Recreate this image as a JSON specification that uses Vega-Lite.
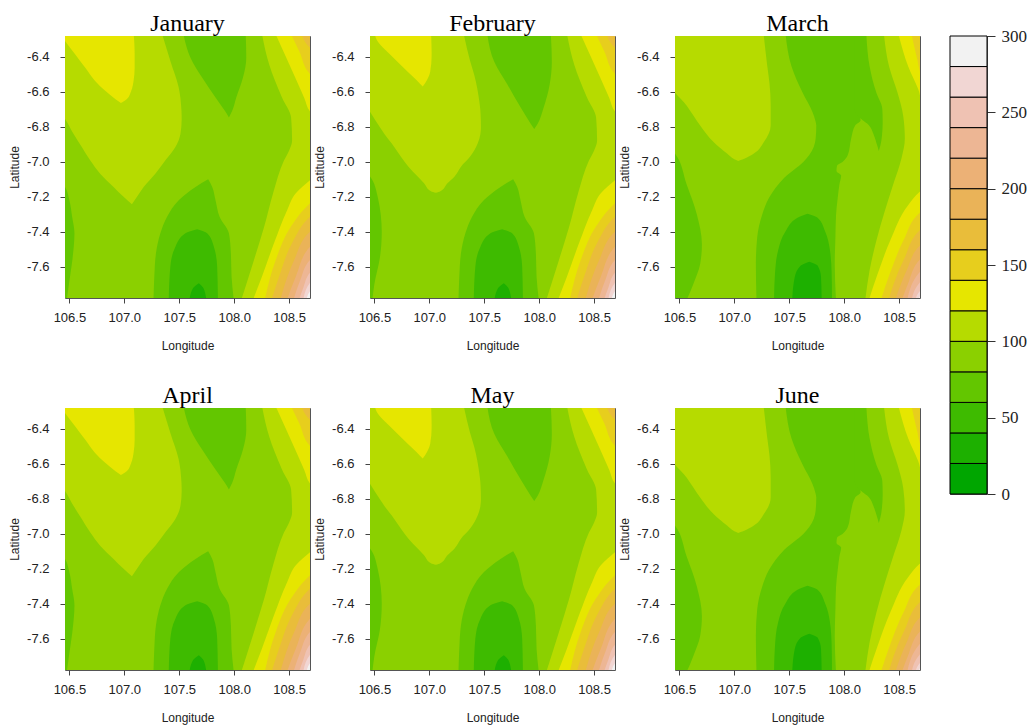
{
  "$schema": "https://vega.github.io/schema/vega-lite/v6.json",
  "padding": {"left": 8, "top": -5, "right": 5, "bottom": 2},
  "background": "white",
  "config": {
    "locale": {"number": {"decimal": ".", "thousands": ",", "grouping": [3], "currency": ["$", ""], "minus": "-"}},
    "view": {"stroke": "#555", "strokeWidth": 1},
    "axis": {"labelFont": "Liberation Sans", "labelFontSize": 13, "labelColor": "#222", "titleFont": "Liberation Sans", "titleFontSize": 12, "titleFontWeight": "normal", "titleColor": "#222", "tickColor": "#444", "tickSize": 5, "domain": false, "grid": false, "labelFlush": false},
    "axisX": {"titlePadding": 16, "labelPadding": 8},
    "axisY": {"titlePadding": 5, "labelPadding": 11}
  },
  "datasets": {
    "bands": [
      {"lo": 0, "hi": 20, "v": 10}, {"lo": 20, "hi": 40, "v": 30}, {"lo": 40, "hi": 60, "v": 50},
      {"lo": 60, "hi": 80, "v": 70}, {"lo": 80, "hi": 100, "v": 90}, {"lo": 100, "hi": 120, "v": 110},
      {"lo": 120, "hi": 140, "v": 130}, {"lo": 140, "hi": 160, "v": 150}, {"lo": 160, "hi": 180, "v": 170},
      {"lo": 180, "hi": 200, "v": 190}, {"lo": 200, "hi": 220, "v": 210}, {"lo": 220, "hi": 240, "v": 230},
      {"lo": 240, "hi": 260, "v": 250}, {"lo": 260, "hi": 280, "v": 270}, {"lo": 280, "hi": 300, "v": 290}
    ],
    "regions": [
      {"m": ["January","February","March","April","May","June"], "id": "base", "v": 90, "z": 0, "lat": -6.2, "a": 106.3, "b": 108.8},
      {"m": ["January","February","March","April","May","June"], "id": "base", "v": 90, "z": 0, "lat": -7.9, "a": 106.3, "b": 108.8},

      {"m": ["January","April"], "id": "a_ls", "v": 70, "z": 1, "lat": -7.13, "a": 106.4, "b": 106.4},
      {"m": ["January","April"], "id": "a_ls", "v": 70, "z": 1, "lat": -7.144, "a": 106.4, "b": 106.46},
      {"m": ["January","April"], "id": "a_ls", "v": 70, "z": 1, "lat": -7.22, "a": 106.4, "b": 106.5},
      {"m": ["January","April"], "id": "a_ls", "v": 70, "z": 1, "lat": -7.315, "a": 106.4, "b": 106.525},
      {"m": ["January","April"], "id": "a_ls", "v": 70, "z": 1, "lat": -7.41, "a": 106.4, "b": 106.546},
      {"m": ["January","April"], "id": "a_ls", "v": 70, "z": 1, "lat": -7.562, "a": 106.4, "b": 106.527},
      {"m": ["January","April"], "id": "a_ls", "v": 70, "z": 1, "lat": -7.695, "a": 106.4, "b": 106.497},
      {"m": ["January","April"], "id": "a_ls", "v": 70, "z": 1, "lat": -7.8, "a": 106.4, "b": 106.474},

      {"m": ["January","April"], "id": "a_lm", "v": 110, "z": 1, "lat": -6.26, "a": 106.4, "b": 107.34},
      {"m": ["January","April"], "id": "a_lm", "v": 110, "z": 1, "lat": -6.423, "a": 106.4, "b": 107.419},
      {"m": ["January","April"], "id": "a_lm", "v": 110, "z": 1, "lat": -6.575, "a": 106.4, "b": 107.495},
      {"m": ["January","April"], "id": "a_lm", "v": 110, "z": 1, "lat": -6.708, "a": 106.4, "b": 107.52},
      {"m": ["January","April"], "id": "a_lm", "v": 110, "z": 1, "lat": -6.755, "a": 106.46, "b": 107.522},
      {"m": ["January","April"], "id": "a_lm", "v": 110, "z": 1, "lat": -6.84, "a": 106.537, "b": 107.511},
      {"m": ["January","April"], "id": "a_lm", "v": 110, "z": 1, "lat": -6.916, "a": 106.613, "b": 107.465},
      {"m": ["January","April"], "id": "a_lm", "v": 110, "z": 1, "lat": -6.992, "a": 106.689, "b": 107.374},
      {"m": ["January","April"], "id": "a_lm", "v": 110, "z": 1, "lat": -7.068, "a": 106.78, "b": 107.282},
      {"m": ["January","April"], "id": "a_lm", "v": 110, "z": 1, "lat": -7.144, "a": 106.902, "b": 107.176},
      {"m": ["January","April"], "id": "a_lm", "v": 110, "z": 1, "lat": -7.201, "a": 106.993, "b": 107.115},
      {"m": ["January","April"], "id": "a_lm", "v": 110, "z": 1, "lat": -7.243, "a": 107.069, "b": 107.069},

      {"m": ["January","April"], "id": "a_ye", "v": 130, "z": 2, "lat": -6.26, "a": 106.4, "b": 107.084},
      {"m": ["January","April"], "id": "a_ye", "v": 130, "z": 2, "lat": -6.309, "a": 106.46, "b": 107.09},
      {"m": ["January","April"], "id": "a_ye", "v": 130, "z": 2, "lat": -6.385, "a": 106.552, "b": 107.094},
      {"m": ["January","April"], "id": "a_ye", "v": 130, "z": 2, "lat": -6.461, "a": 106.643, "b": 107.094},
      {"m": ["January","April"], "id": "a_ye", "v": 130, "z": 2, "lat": -6.537, "a": 106.734, "b": 107.084},
      {"m": ["January","April"], "id": "a_ye", "v": 130, "z": 2, "lat": -6.594, "a": 106.826, "b": 107.063},
      {"m": ["January","April"], "id": "a_ye", "v": 130, "z": 2, "lat": -6.641, "a": 106.917, "b": 107.024},
      {"m": ["January","April"], "id": "a_ye", "v": 130, "z": 2, "lat": -6.664, "a": 106.969, "b": 106.969},

      {"m": ["January","April"], "id": "a_gt", "v": 70, "z": 1, "lat": -6.26, "a": 107.535, "b": 108.104},
      {"m": ["January","April"], "id": "a_gt", "v": 70, "z": 1, "lat": -6.404, "a": 107.602, "b": 108.11},
      {"m": ["January","April"], "id": "a_gt", "v": 70, "z": 1, "lat": -6.518, "a": 107.708, "b": 108.08},
      {"m": ["January","April"], "id": "a_gt", "v": 70, "z": 1, "lat": -6.632, "a": 107.83, "b": 108.019},
      {"m": ["January","April"], "id": "a_gt", "v": 70, "z": 1, "lat": -6.708, "a": 107.915, "b": 107.982},
      {"m": ["January","April"], "id": "a_gt", "v": 70, "z": 1, "lat": -6.746, "a": 107.952, "b": 107.952},

      {"m": ["February","May"], "id": "b_ls", "v": 70, "z": 1, "lat": -7.07, "a": 106.4, "b": 106.4},
      {"m": ["February","May"], "id": "b_ls", "v": 70, "z": 1, "lat": -7.084, "a": 106.4, "b": 106.46},
      {"m": ["February","May"], "id": "b_ls", "v": 70, "z": 1, "lat": -7.2, "a": 106.4, "b": 106.53},
      {"m": ["February","May"], "id": "b_ls", "v": 70, "z": 1, "lat": -7.4, "a": 106.4, "b": 106.567},
      {"m": ["February","May"], "id": "b_ls", "v": 70, "z": 1, "lat": -7.55, "a": 106.4, "b": 106.55},
      {"m": ["February","May"], "id": "b_ls", "v": 70, "z": 1, "lat": -7.7, "a": 106.4, "b": 106.5},
      {"m": ["February","May"], "id": "b_ls", "v": 70, "z": 1, "lat": -7.8, "a": 106.4, "b": 106.48},

      {"m": ["February","May"], "id": "b_lm", "v": 110, "z": 1, "lat": -6.26, "a": 106.4, "b": 107.31},
      {"m": ["February","May"], "id": "b_lm", "v": 110, "z": 1, "lat": -6.42, "a": 106.4, "b": 107.37},
      {"m": ["February","May"], "id": "b_lm", "v": 110, "z": 1, "lat": -6.503, "a": 106.4, "b": 107.409},
      {"m": ["February","May"], "id": "b_lm", "v": 110, "z": 1, "lat": -6.653, "a": 106.4, "b": 107.455},
      {"m": ["February","May"], "id": "b_lm", "v": 110, "z": 1, "lat": -6.709, "a": 106.455, "b": 107.465},
      {"m": ["February","May"], "id": "b_lm", "v": 110, "z": 1, "lat": -6.803, "a": 106.55, "b": 107.47},
      {"m": ["February","May"], "id": "b_lm", "v": 110, "z": 1, "lat": -6.841, "a": 106.591, "b": 107.465},
      {"m": ["February","May"], "id": "b_lm", "v": 110, "z": 1, "lat": -6.897, "a": 106.66, "b": 107.439},
      {"m": ["February","May"], "id": "b_lm", "v": 110, "z": 1, "lat": -6.972, "a": 106.742, "b": 107.37},
      {"m": ["February","May"], "id": "b_lm", "v": 110, "z": 1, "lat": -7.028, "a": 106.81, "b": 107.288},
      {"m": ["February","May"], "id": "b_lm", "v": 110, "z": 1, "lat": -7.084, "a": 106.894, "b": 107.23},
      {"m": ["February","May"], "id": "b_lm", "v": 110, "z": 1, "lat": -7.122, "a": 106.95, "b": 107.167},
      {"m": ["February","May"], "id": "b_lm", "v": 110, "z": 1, "lat": -7.169, "a": 107.015, "b": 107.1},
      {"m": ["February","May"], "id": "b_lm", "v": 110, "z": 1, "lat": -7.178, "a": 107.06, "b": 107.06},

      {"m": ["February","May"], "id": "b_ye", "v": 130, "z": 2, "lat": -6.26, "a": 106.5, "b": 107.015},
      {"m": ["February","May"], "id": "b_ye", "v": 130, "z": 2, "lat": -6.3, "a": 106.52, "b": 107.018},
      {"m": ["February","May"], "id": "b_ye", "v": 130, "z": 2, "lat": -6.391, "a": 106.652, "b": 107.021},
      {"m": ["February","May"], "id": "b_ye", "v": 130, "z": 2, "lat": -6.484, "a": 106.803, "b": 107.008},
      {"m": ["February","May"], "id": "b_ye", "v": 130, "z": 2, "lat": -6.53, "a": 106.88, "b": 106.98},
      {"m": ["February","May"], "id": "b_ye", "v": 130, "z": 2, "lat": -6.569, "a": 106.94, "b": 106.94},

      {"m": ["February","May"], "id": "b_gt", "v": 70, "z": 1, "lat": -6.26, "a": 107.525, "b": 108.105},
      {"m": ["February","May"], "id": "b_gt", "v": 70, "z": 1, "lat": -6.428, "a": 107.591, "b": 108.115},
      {"m": ["February","May"], "id": "b_gt", "v": 70, "z": 1, "lat": -6.559, "a": 107.712, "b": 108.095},
      {"m": ["February","May"], "id": "b_gt", "v": 70, "z": 1, "lat": -6.691, "a": 107.833, "b": 108.04},
      {"m": ["February","May"], "id": "b_gt", "v": 70, "z": 1, "lat": -6.784, "a": 107.924, "b": 107.985},
      {"m": ["February","May"], "id": "b_gt", "v": 70, "z": 1, "lat": -6.813, "a": 107.955, "b": 107.955},

      {"m": ["January","February","April","May"], "id": "ab_gb", "v": 70, "z": 1, "lat": -7.1, "a": 107.763, "b": 107.763},
      {"m": ["January","February","April","May"], "id": "ab_gb", "v": 70, "z": 1, "lat": -7.144, "a": 107.648, "b": 107.8},
      {"m": ["January","February","April","May"], "id": "ab_gb", "v": 70, "z": 1, "lat": -7.22, "a": 107.495, "b": 107.83},
      {"m": ["January","February","April","May"], "id": "ab_gb", "v": 70, "z": 1, "lat": -7.315, "a": 107.389, "b": 107.867},
      {"m": ["January","February","April","May"], "id": "ab_gb", "v": 70, "z": 1, "lat": -7.41, "a": 107.328, "b": 107.952},
      {"m": ["January","February","April","May"], "id": "ab_gb", "v": 70, "z": 1, "lat": -7.524, "a": 107.288, "b": 107.97},
      {"m": ["January","February","April","May"], "id": "ab_gb", "v": 70, "z": 1, "lat": -7.657, "a": 107.273, "b": 107.976},
      {"m": ["January","February","April","May"], "id": "ab_gb", "v": 70, "z": 1, "lat": -7.8, "a": 107.265, "b": 107.998},

      {"m": ["January","February","April","May"], "id": "ab_dg", "v": 50, "z": 2, "lat": -7.387, "a": 107.663, "b": 107.663},
      {"m": ["January","February","April","May"], "id": "ab_dg", "v": 50, "z": 2, "lat": -7.41, "a": 107.556, "b": 107.754},
      {"m": ["January","February","April","May"], "id": "ab_dg", "v": 50, "z": 2, "lat": -7.486, "a": 107.465, "b": 107.815},
      {"m": ["January","February","April","May"], "id": "ab_dg", "v": 50, "z": 2, "lat": -7.6, "a": 107.419, "b": 107.845},
      {"m": ["January","February","April","May"], "id": "ab_dg", "v": 50, "z": 2, "lat": -7.8, "a": 107.404, "b": 107.852},

      {"m": ["January","February","April","May"], "id": "ab_dd", "v": 30, "z": 3, "lat": -7.695, "a": 107.678, "b": 107.678},
      {"m": ["January","February","April","May"], "id": "ab_dd", "v": 30, "z": 3, "lat": -7.723, "a": 107.626, "b": 107.72},
      {"m": ["January","February","April","May"], "id": "ab_dd", "v": 30, "z": 3, "lat": -7.8, "a": 107.59, "b": 107.748},

      {"m": ["January","February","April","May"], "id": "ab_rl", "v": 110, "z": 1, "lat": -6.26, "a": 108.25, "b": 108.8},
      {"m": ["January","February","April","May"], "id": "ab_rl", "v": 110, "z": 1, "lat": -6.44, "a": 108.317, "b": 108.8},
      {"m": ["January","February","April","May"], "id": "ab_rl", "v": 110, "z": 1, "lat": -6.633, "a": 108.436, "b": 108.8},
      {"m": ["January","February","April","May"], "id": "ab_rl", "v": 110, "z": 1, "lat": -6.747, "a": 108.518, "b": 108.8},
      {"m": ["January","February","April","May"], "id": "ab_rl", "v": 110, "z": 1, "lat": -6.878, "a": 108.527, "b": 108.8},
      {"m": ["January","February","April","May"], "id": "ab_rl", "v": 110, "z": 1, "lat": -6.935, "a": 108.5, "b": 108.8},
      {"m": ["January","February","April","May"], "id": "ab_rl", "v": 110, "z": 1, "lat": -6.992, "a": 108.454, "b": 108.8},
      {"m": ["January","February","April","May"], "id": "ab_rl", "v": 110, "z": 1, "lat": -7.18, "a": 108.354, "b": 108.8},
      {"m": ["January","February","April","May"], "id": "ab_rl", "v": 110, "z": 1, "lat": -7.374, "a": 108.272, "b": 108.8},
      {"m": ["January","February","April","May"], "id": "ab_rl", "v": 110, "z": 1, "lat": -7.562, "a": 108.18, "b": 108.8},
      {"m": ["January","February","April","May"], "id": "ab_rl", "v": 110, "z": 1, "lat": -7.8, "a": 108.06, "b": 108.8},

      {"m": ["January","February","April","May"], "id": "ab_ryt", "v": 130, "z": 2, "lat": -6.26, "a": 108.37, "b": 108.8},
      {"m": ["January","February","April","May"], "id": "ab_ryt", "v": 130, "z": 2, "lat": -6.44, "a": 108.5, "b": 108.8},
      {"m": ["January","February","April","May"], "id": "ab_ryt", "v": 130, "z": 2, "lat": -6.633, "a": 108.637, "b": 108.8},
      {"m": ["January","February","April","May"], "id": "ab_ryt", "v": 130, "z": 2, "lat": -6.72, "a": 108.7, "b": 108.8},
      {"m": ["January","February","April","May"], "id": "ab_ryt", "v": 130, "z": 2, "lat": -6.76, "a": 108.8, "b": 108.8},

      {"m": ["January","February","April","May"], "id": "ab_rgt", "v": 150, "z": 3, "lat": -6.26, "a": 108.51, "b": 108.8},
      {"m": ["January","February","April","May"], "id": "ab_rgt", "v": 150, "z": 3, "lat": -6.366, "a": 108.591, "b": 108.8},
      {"m": ["January","February","April","May"], "id": "ab_rgt", "v": 150, "z": 3, "lat": -6.497, "a": 108.69, "b": 108.8},
      {"m": ["January","February","April","May"], "id": "ab_rgt", "v": 150, "z": 3, "lat": -6.54, "a": 108.8, "b": 108.8},

      {"m": ["January","February","April","May"], "id": "ab_rot", "v": 170, "z": 4, "lat": -6.26, "a": 108.61, "b": 108.8},
      {"m": ["January","February","April","May"], "id": "ab_rot", "v": 170, "z": 4, "lat": -6.347, "a": 108.69, "b": 108.8},
      {"m": ["January","February","April","May"], "id": "ab_rot", "v": 170, "z": 4, "lat": -6.38, "a": 108.8, "b": 108.8},

      {"m": ["January","February","April","May"], "id": "ab_y2", "v": 130, "z": 2, "lat": -7.05, "a": 108.8, "b": 108.8},
      {"m": ["January","February","April","May"], "id": "ab_y2", "v": 130, "z": 2, "lat": -7.106, "a": 108.69, "b": 108.8},
      {"m": ["January","February","April","May"], "id": "ab_y2", "v": 130, "z": 2, "lat": -7.18, "a": 108.561, "b": 108.8},
      {"m": ["January","February","April","May"], "id": "ab_y2", "v": 130, "z": 2, "lat": -7.277, "a": 108.482, "b": 108.8},
      {"m": ["January","February","April","May"], "id": "ab_y2", "v": 130, "z": 2, "lat": -7.465, "a": 108.363, "b": 108.8},
      {"m": ["January","February","April","May"], "id": "ab_y2", "v": 130, "z": 2, "lat": -7.657, "a": 108.253, "b": 108.8},
      {"m": ["January","February","April","May"], "id": "ab_y2", "v": 130, "z": 2, "lat": -7.8, "a": 108.165, "b": 108.8},

      {"m": ["January","February","April","May"], "id": "ab_g2", "v": 150, "z": 3, "lat": -7.18, "a": 108.8, "b": 108.8},
      {"m": ["January","February","April","May"], "id": "ab_g2", "v": 150, "z": 3, "lat": -7.237, "a": 108.69, "b": 108.8},
      {"m": ["January","February","April","May"], "id": "ab_g2", "v": 150, "z": 3, "lat": -7.372, "a": 108.515, "b": 108.8},
      {"m": ["January","February","April","May"], "id": "ab_g2", "v": 150, "z": 3, "lat": -7.562, "a": 108.378, "b": 108.8},
      {"m": ["January","February","April","May"], "id": "ab_g2", "v": 150, "z": 3, "lat": -7.8, "a": 108.275, "b": 108.8},

      {"m": ["January","February","April","May"], "id": "ab_o3", "v": 170, "z": 4, "lat": -7.26, "a": 108.8, "b": 108.8},
      {"m": ["January","February","April","May"], "id": "ab_o3", "v": 170, "z": 4, "lat": -7.315, "a": 108.69, "b": 108.8},
      {"m": ["January","February","April","May"], "id": "ab_o3", "v": 170, "z": 4, "lat": -7.465, "a": 108.527, "b": 108.8},
      {"m": ["January","February","April","May"], "id": "ab_o3", "v": 170, "z": 4, "lat": -7.657, "a": 108.409, "b": 108.8},
      {"m": ["January","February","April","May"], "id": "ab_o3", "v": 170, "z": 4, "lat": -7.8, "a": 108.335, "b": 108.8},

      {"m": ["January","February","April","May"], "id": "ab_o4", "v": 190, "z": 5, "lat": -7.35, "a": 108.8, "b": 108.8},
      {"m": ["January","February","April","May"], "id": "ab_o4", "v": 190, "z": 5, "lat": -7.4, "a": 108.69, "b": 108.8},
      {"m": ["January","February","April","May"], "id": "ab_o4", "v": 190, "z": 5, "lat": -7.562, "a": 108.546, "b": 108.8},
      {"m": ["January","February","April","May"], "id": "ab_o4", "v": 190, "z": 5, "lat": -7.8, "a": 108.415, "b": 108.8},

      {"m": ["January","February","April","May"], "id": "ab_o5", "v": 210, "z": 6, "lat": -7.44, "a": 108.8, "b": 108.8},
      {"m": ["January","February","April","May"], "id": "ab_o5", "v": 210, "z": 6, "lat": -7.486, "a": 108.69, "b": 108.8},
      {"m": ["January","February","April","May"], "id": "ab_o5", "v": 210, "z": 6, "lat": -7.657, "a": 108.561, "b": 108.8},
      {"m": ["January","February","April","May"], "id": "ab_o5", "v": 210, "z": 6, "lat": -7.8, "a": 108.475, "b": 108.8},

      {"m": ["January","February","April","May"], "id": "ab_o6", "v": 230, "z": 7, "lat": -7.52, "a": 108.8, "b": 108.8},
      {"m": ["January","February","April","May"], "id": "ab_o6", "v": 230, "z": 7, "lat": -7.562, "a": 108.69, "b": 108.8},
      {"m": ["January","February","April","May"], "id": "ab_o6", "v": 230, "z": 7, "lat": -7.68, "a": 108.6, "b": 108.8},
      {"m": ["January","February","April","May"], "id": "ab_o6", "v": 230, "z": 7, "lat": -7.8, "a": 108.535, "b": 108.8},

      {"m": ["January","February","April","May"], "id": "ab_o7", "v": 250, "z": 8, "lat": -7.6, "a": 108.8, "b": 108.8},
      {"m": ["January","February","April","May"], "id": "ab_o7", "v": 250, "z": 8, "lat": -7.636, "a": 108.69, "b": 108.8},
      {"m": ["January","February","April","May"], "id": "ab_o7", "v": 250, "z": 8, "lat": -7.72, "a": 108.63, "b": 108.8},
      {"m": ["January","February","April","May"], "id": "ab_o7", "v": 250, "z": 8, "lat": -7.8, "a": 108.585, "b": 108.8},

      {"m": ["January","February","April","May"], "id": "ab_o8", "v": 270, "z": 9, "lat": -7.66, "a": 108.8, "b": 108.8},
      {"m": ["January","February","April","May"], "id": "ab_o8", "v": 270, "z": 9, "lat": -7.693, "a": 108.69, "b": 108.8},
      {"m": ["January","February","April","May"], "id": "ab_o8", "v": 270, "z": 9, "lat": -7.8, "a": 108.625, "b": 108.8},

      {"m": ["January","February","April","May"], "id": "ab_o9", "v": 290, "z": 10, "lat": -7.715, "a": 108.8, "b": 108.8},
      {"m": ["January","February","April","May"], "id": "ab_o9", "v": 290, "z": 10, "lat": -7.742, "a": 108.69, "b": 108.8},
      {"m": ["January","February","April","May"], "id": "ab_o9", "v": 290, "z": 10, "lat": -7.8, "a": 108.655, "b": 108.8},

      {"m": ["March","June"], "id": "c_lm", "v": 110, "z": 1, "lat": -6.26, "a": 106.4, "b": 107.265},
      {"m": ["March","June"], "id": "c_lm", "v": 110, "z": 1, "lat": -6.453, "a": 106.4, "b": 107.3},
      {"m": ["March","June"], "id": "c_lm", "v": 110, "z": 1, "lat": -6.55, "a": 106.41, "b": 107.32},
      {"m": ["March","June"], "id": "c_lm", "v": 110, "z": 1, "lat": -6.679, "a": 106.567, "b": 107.331},
      {"m": ["March","June"], "id": "c_lm", "v": 110, "z": 1, "lat": -6.792, "a": 106.689, "b": 107.331},
      {"m": ["March","June"], "id": "c_lm", "v": 110, "z": 1, "lat": -6.887, "a": 106.811, "b": 107.269},
      {"m": ["March","June"], "id": "c_lm", "v": 110, "z": 1, "lat": -6.953, "a": 106.934, "b": 107.178},
      {"m": ["March","June"], "id": "c_lm", "v": 110, "z": 1, "lat": -6.985, "a": 107.0, "b": 107.08},
      {"m": ["March","June"], "id": "c_lm", "v": 110, "z": 1, "lat": -6.995, "a": 107.035, "b": 107.035},

      {"m": ["March","June"], "id": "c_ls", "v": 70, "z": 1, "lat": -6.93, "a": 106.4, "b": 106.4},
      {"m": ["March","June"], "id": "c_ls", "v": 70, "z": 1, "lat": -6.953, "a": 106.4, "b": 106.46},
      {"m": ["March","June"], "id": "c_ls", "v": 70, "z": 1, "lat": -7.132, "a": 106.4, "b": 106.567},
      {"m": ["March","June"], "id": "c_ls", "v": 70, "z": 1, "lat": -7.302, "a": 106.4, "b": 106.659},
      {"m": ["March","June"], "id": "c_ls", "v": 70, "z": 1, "lat": -7.472, "a": 106.4, "b": 106.705},
      {"m": ["March","June"], "id": "c_ls", "v": 70, "z": 1, "lat": -7.585, "a": 106.4, "b": 106.689},
      {"m": ["March","June"], "id": "c_ls", "v": 70, "z": 1, "lat": -7.698, "a": 106.4, "b": 106.628},
      {"m": ["March","June"], "id": "c_ls", "v": 70, "z": 1, "lat": -7.8, "a": 106.4, "b": 106.56},

      {"m": ["March","June"], "id": "c_g1", "v": 70, "z": 1, "lat": -6.264, "a": 107.465, "b": 108.14},
      {"m": ["March","June"], "id": "c_g1", "v": 70, "z": 1, "lat": -6.453, "a": 107.52, "b": 108.14},
      {"m": ["March","June"], "id": "c_g1", "v": 70, "z": 1, "lat": -6.604, "a": 107.621, "b": 108.14},
      {"m": ["March","June"], "id": "c_g1", "v": 70, "z": 1, "lat": -6.717, "a": 107.712, "b": 108.146},
      {"m": ["March","June"], "id": "c_g1", "v": 70, "z": 1, "lat": -6.764, "a": 107.737, "b": 108.149},
      {"m": ["March","June"], "id": "c_g1", "v": 70, "z": 1, "lat": -6.792, "a": 107.746, "b": 108.1},
      {"m": ["March","June"], "id": "c_g1", "v": 70, "z": 1, "lat": -6.868, "a": 107.74, "b": 108.063},
      {"m": ["March","June"], "id": "c_g1", "v": 70, "z": 1, "lat": -6.962, "a": 107.682, "b": 108.033},
      {"m": ["March","June"], "id": "c_g1", "v": 70, "z": 1, "lat": -7.0, "a": 107.63, "b": 107.987},
      {"m": ["March","June"], "id": "c_g1", "v": 70, "z": 1, "lat": -7.023, "a": 107.59, "b": 107.935},
      {"m": ["March","June"], "id": "c_g1", "v": 70, "z": 1, "lat": -7.053, "a": 107.529, "b": 107.93},
      {"m": ["March","June"], "id": "c_g1", "v": 70, "z": 1, "lat": -7.079, "a": 107.477, "b": 107.972},
      {"m": ["March","June"], "id": "c_g1", "v": 70, "z": 1, "lat": -7.132, "a": 107.398, "b": 107.956},
      {"m": ["March","June"], "id": "c_g1", "v": 70, "z": 1, "lat": -7.208, "a": 107.315, "b": 107.941},
      {"m": ["March","June"], "id": "c_g1", "v": 70, "z": 1, "lat": -7.302, "a": 107.254, "b": 107.926},
      {"m": ["March","June"], "id": "c_g1", "v": 70, "z": 1, "lat": -7.434, "a": 107.208, "b": 107.92},
      {"m": ["March","June"], "id": "c_g1", "v": 70, "z": 1, "lat": -7.585, "a": 107.196, "b": 107.914},
      {"m": ["March","June"], "id": "c_g1", "v": 70, "z": 1, "lat": -7.8, "a": 107.202, "b": 107.926},

      {"m": ["March","June"], "id": "c_g2", "v": 70, "z": 1, "lat": -6.264, "a": 108.09, "b": 108.201},
      {"m": ["March","June"], "id": "c_g2", "v": 70, "z": 1, "lat": -6.453, "a": 108.09, "b": 108.231},
      {"m": ["March","June"], "id": "c_g2", "v": 70, "z": 1, "lat": -6.604, "a": 108.09, "b": 108.292},
      {"m": ["March","June"], "id": "c_g2", "v": 70, "z": 1, "lat": -6.698, "a": 108.09, "b": 108.347},
      {"m": ["March","June"], "id": "c_g2", "v": 70, "z": 1, "lat": -6.755, "a": 108.155, "b": 108.35},
      {"m": ["March","June"], "id": "c_g2", "v": 70, "z": 1, "lat": -6.783, "a": 108.212, "b": 108.35},
      {"m": ["March","June"], "id": "c_g2", "v": 70, "z": 1, "lat": -6.849, "a": 108.271, "b": 108.344},
      {"m": ["March","June"], "id": "c_g2", "v": 70, "z": 1, "lat": -6.906, "a": 108.3, "b": 108.33},
      {"m": ["March","June"], "id": "c_g2", "v": 70, "z": 1, "lat": -6.938, "a": 108.315, "b": 108.315},

      {"m": ["March","June"], "id": "c_dg", "v": 50, "z": 2, "lat": -7.298, "a": 107.666, "b": 107.666},
      {"m": ["March","June"], "id": "c_dg", "v": 50, "z": 2, "lat": -7.321, "a": 107.575, "b": 107.758},
      {"m": ["March","June"], "id": "c_dg", "v": 50, "z": 2, "lat": -7.396, "a": 107.468, "b": 107.825},
      {"m": ["March","June"], "id": "c_dg", "v": 50, "z": 2, "lat": -7.509, "a": 107.398, "b": 107.871},
      {"m": ["March","June"], "id": "c_dg", "v": 50, "z": 2, "lat": -7.642, "a": 107.37, "b": 107.886},
      {"m": ["March","June"], "id": "c_dg", "v": 50, "z": 2, "lat": -7.8, "a": 107.361, "b": 107.889},

      {"m": ["March","June"], "id": "c_dd", "v": 30, "z": 3, "lat": -7.572, "a": 107.682, "b": 107.682},
      {"m": ["March","June"], "id": "c_dd", "v": 30, "z": 3, "lat": -7.594, "a": 107.605, "b": 107.758},
      {"m": ["March","June"], "id": "c_dd", "v": 30, "z": 3, "lat": -7.66, "a": 107.55, "b": 107.789},
      {"m": ["March","June"], "id": "c_dd", "v": 30, "z": 3, "lat": -7.8, "a": 107.526, "b": 107.795},

      {"m": ["March","June"], "id": "c_rl", "v": 110, "z": 1, "lat": -6.26, "a": 108.36, "b": 108.8},
      {"m": ["March","June"], "id": "c_rl", "v": 110, "z": 1, "lat": -6.453, "a": 108.408, "b": 108.8},
      {"m": ["March","June"], "id": "c_rl", "v": 110, "z": 1, "lat": -6.604, "a": 108.485, "b": 108.8},
      {"m": ["March","June"], "id": "c_rl", "v": 110, "z": 1, "lat": -6.736, "a": 108.537, "b": 108.8},
      {"m": ["March","June"], "id": "c_rl", "v": 110, "z": 1, "lat": -6.868, "a": 108.552, "b": 108.8},
      {"m": ["March","June"], "id": "c_rl", "v": 110, "z": 1, "lat": -6.981, "a": 108.521, "b": 108.8},
      {"m": ["March","June"], "id": "c_rl", "v": 110, "z": 1, "lat": -7.132, "a": 108.445, "b": 108.8},
      {"m": ["March","June"], "id": "c_rl", "v": 110, "z": 1, "lat": -7.283, "a": 108.369, "b": 108.8},
      {"m": ["March","June"], "id": "c_rl", "v": 110, "z": 1, "lat": -7.453, "a": 108.292, "b": 108.8},
      {"m": ["March","June"], "id": "c_rl", "v": 110, "z": 1, "lat": -7.623, "a": 108.231, "b": 108.8},
      {"m": ["March","June"], "id": "c_rl", "v": 110, "z": 1, "lat": -7.8, "a": 108.19, "b": 108.8},

      {"m": ["March","June"], "id": "c_ryt", "v": 130, "z": 2, "lat": -6.26, "a": 108.49, "b": 108.8},
      {"m": ["March","June"], "id": "c_ryt", "v": 130, "z": 2, "lat": -6.453, "a": 108.582, "b": 108.8},
      {"m": ["March","June"], "id": "c_ryt", "v": 130, "z": 2, "lat": -6.585, "a": 108.674, "b": 108.8},
      {"m": ["March","June"], "id": "c_ryt", "v": 130, "z": 2, "lat": -6.664, "a": 108.72, "b": 108.8},
      {"m": ["March","June"], "id": "c_ryt", "v": 130, "z": 2, "lat": -6.7, "a": 108.8, "b": 108.8},

      {"m": ["March","June"], "id": "c_rgt", "v": 150, "z": 3, "lat": -6.26, "a": 108.61, "b": 108.8},
      {"m": ["March","June"], "id": "c_rgt", "v": 150, "z": 3, "lat": -6.4, "a": 108.66, "b": 108.8},
      {"m": ["March","June"], "id": "c_rgt", "v": 150, "z": 3, "lat": -6.529, "a": 108.72, "b": 108.8},
      {"m": ["March","June"], "id": "c_rgt", "v": 150, "z": 3, "lat": -6.56, "a": 108.8, "b": 108.8},

      {"m": ["March","June"], "id": "c_y2", "v": 130, "z": 2, "lat": -7.12, "a": 108.8, "b": 108.8},
      {"m": ["March","June"], "id": "c_y2", "v": 130, "z": 2, "lat": -7.17, "a": 108.69, "b": 108.8},
      {"m": ["March","June"], "id": "c_y2", "v": 130, "z": 2, "lat": -7.25, "a": 108.58, "b": 108.8},
      {"m": ["March","June"], "id": "c_y2", "v": 130, "z": 2, "lat": -7.45, "a": 108.42, "b": 108.8},
      {"m": ["March","June"], "id": "c_y2", "v": 130, "z": 2, "lat": -7.65, "a": 108.3, "b": 108.8},
      {"m": ["March","June"], "id": "c_y2", "v": 130, "z": 2, "lat": -7.8, "a": 108.22, "b": 108.8},

      {"m": ["March","June"], "id": "c_g2b", "v": 150, "z": 3, "lat": -7.24, "a": 108.8, "b": 108.8},
      {"m": ["March","June"], "id": "c_g2b", "v": 150, "z": 3, "lat": -7.29, "a": 108.69, "b": 108.8},
      {"m": ["March","June"], "id": "c_g2b", "v": 150, "z": 3, "lat": -7.45, "a": 108.54, "b": 108.8},
      {"m": ["March","June"], "id": "c_g2b", "v": 150, "z": 3, "lat": -7.65, "a": 108.41, "b": 108.8},
      {"m": ["March","June"], "id": "c_g2b", "v": 150, "z": 3, "lat": -7.8, "a": 108.33, "b": 108.8},

      {"m": ["March","June"], "id": "c_o3", "v": 170, "z": 4, "lat": -7.35, "a": 108.8, "b": 108.8},
      {"m": ["March","June"], "id": "c_o3", "v": 170, "z": 4, "lat": -7.39, "a": 108.69, "b": 108.8},
      {"m": ["March","June"], "id": "c_o3", "v": 170, "z": 4, "lat": -7.55, "a": 108.55, "b": 108.8},
      {"m": ["March","June"], "id": "c_o3", "v": 170, "z": 4, "lat": -7.7, "a": 108.45, "b": 108.8},
      {"m": ["March","June"], "id": "c_o3", "v": 170, "z": 4, "lat": -7.8, "a": 108.4, "b": 108.8},

      {"m": ["March","June"], "id": "c_o4", "v": 190, "z": 5, "lat": -7.44, "a": 108.8, "b": 108.8},
      {"m": ["March","June"], "id": "c_o4", "v": 190, "z": 5, "lat": -7.48, "a": 108.69, "b": 108.8},
      {"m": ["March","June"], "id": "c_o4", "v": 190, "z": 5, "lat": -7.62, "a": 108.57, "b": 108.8},
      {"m": ["March","June"], "id": "c_o4", "v": 190, "z": 5, "lat": -7.8, "a": 108.46, "b": 108.8},

      {"m": ["March","June"], "id": "c_o5", "v": 210, "z": 6, "lat": -7.52, "a": 108.8, "b": 108.8},
      {"m": ["March","June"], "id": "c_o5", "v": 210, "z": 6, "lat": -7.56, "a": 108.69, "b": 108.8},
      {"m": ["March","June"], "id": "c_o5", "v": 210, "z": 6, "lat": -7.7, "a": 108.58, "b": 108.8},
      {"m": ["March","June"], "id": "c_o5", "v": 210, "z": 6, "lat": -7.8, "a": 108.52, "b": 108.8},

      {"m": ["March","June"], "id": "c_o6", "v": 230, "z": 7, "lat": -7.6, "a": 108.8, "b": 108.8},
      {"m": ["March","June"], "id": "c_o6", "v": 230, "z": 7, "lat": -7.63, "a": 108.69, "b": 108.8},
      {"m": ["March","June"], "id": "c_o6", "v": 230, "z": 7, "lat": -7.8, "a": 108.57, "b": 108.8},

      {"m": ["March","June"], "id": "c_o7", "v": 250, "z": 8, "lat": -7.66, "a": 108.8, "b": 108.8},
      {"m": ["March","June"], "id": "c_o7", "v": 250, "z": 8, "lat": -7.69, "a": 108.69, "b": 108.8},
      {"m": ["March","June"], "id": "c_o7", "v": 250, "z": 8, "lat": -7.8, "a": 108.61, "b": 108.8},

      {"m": ["March","June"], "id": "c_o8", "v": 270, "z": 9, "lat": -7.715, "a": 108.8, "b": 108.8},
      {"m": ["March","June"], "id": "c_o8", "v": 270, "z": 9, "lat": -7.74, "a": 108.69, "b": 108.8},
      {"m": ["March","June"], "id": "c_o8", "v": 270, "z": 9, "lat": -7.8, "a": 108.645, "b": 108.8},

      {"m": ["March","June"], "id": "c_o9", "v": 290, "z": 10, "lat": -7.755, "a": 108.8, "b": 108.8},
      {"m": ["March","June"], "id": "c_o9", "v": 290, "z": 10, "lat": -7.77, "a": 108.69, "b": 108.8},
      {"m": ["March","June"], "id": "c_o9", "v": 290, "z": 10, "lat": -7.8, "a": 108.675, "b": 108.8}
    ]
  },
  "hconcat": [
    {
      "data": {"name": "regions"},
      "transform": [{"flatten": ["m"]}],
      "columns": 3,
      "bounds": "flush",
      "spacing": {"column": 60, "row": 110},
      "facet": {
        "field": "m", "type": "nominal",
        "sort": ["January","February","March","April","May","June"],
        "title": null,
        "header": {"labelFont": "Liberation Serif", "labelFontSize": 24, "labelColor": "black", "labelPadding": 0}
      },
      "resolve": {"axis": {"x": "independent", "y": "independent"}},
      "spec": {
        "width": 245,
        "height": 262,
        "encoding": {
          "y": {"field": "lat", "type": "quantitative", "scale": {"domain": [-7.78, -6.28], "nice": false, "zero": false},
                "axis": {"title": "Latitude", "values": [-7.6, -7.4, -7.2, -7.0, -6.8, -6.6, -6.4], "format": ".1f"}},
          "x": {"field": "a", "type": "quantitative", "stack": null, "scale": {"domain": [106.46, 108.69], "nice": false, "zero": false},
                "axis": {"title": "Longitude", "values": [106.5, 107.0, 107.5, 108.0, 108.5], "format": ".1f"}},
          "x2": {"field": "b"},
          "color": {"field": "v", "type": "quantitative", "legend": null,
                    "scale": {"type": "threshold", "domain": [20,40,60,80,100,120,140,160,180,200,220,240,260,280],
                              "range": ["#00A600","#1DB000","#3EBB00","#63C600","#8BD000","#B6DB00","#E6E600","#E7CE1D","#E9BD3A","#EAB358","#ECB176","#EDB694","#EFC2B3","#F1D6D3","#F2F2F2"]}},
          "detail": {"field": "id", "type": "nominal"}
        },
        "layer": [
          {"transform": [{"filter": "datum.z == 0"}], "mark": {"type": "area", "orient": "horizontal", "interpolate": "monotone", "clip": true}},
          {"transform": [{"filter": "datum.z == 1"}], "mark": {"type": "area", "orient": "horizontal", "interpolate": "monotone", "clip": true}},
          {"transform": [{"filter": "datum.z == 2"}], "mark": {"type": "area", "orient": "horizontal", "interpolate": "monotone", "clip": true}},
          {"transform": [{"filter": "datum.z == 3"}], "mark": {"type": "area", "orient": "horizontal", "interpolate": "monotone", "clip": true}},
          {"transform": [{"filter": "datum.z == 4"}], "mark": {"type": "area", "orient": "horizontal", "interpolate": "monotone", "clip": true}},
          {"transform": [{"filter": "datum.z == 5"}], "mark": {"type": "area", "orient": "horizontal", "interpolate": "monotone", "clip": true}},
          {"transform": [{"filter": "datum.z == 6"}], "mark": {"type": "area", "orient": "horizontal", "interpolate": "monotone", "clip": true}},
          {"transform": [{"filter": "datum.z == 7"}], "mark": {"type": "area", "orient": "horizontal", "interpolate": "monotone", "clip": true}},
          {"transform": [{"filter": "datum.z == 8"}], "mark": {"type": "area", "orient": "horizontal", "interpolate": "monotone", "clip": true}},
          {"transform": [{"filter": "datum.z == 9"}], "mark": {"type": "area", "orient": "horizontal", "interpolate": "monotone", "clip": true}},
          {"transform": [{"filter": "datum.z == 10"}], "mark": {"type": "area", "orient": "horizontal", "interpolate": "monotone", "clip": true}}
        ]
      }
    },
    {
      "data": {"name": "bands"},
      "title": {"text": " ", "fontSize": 24, "offset": 7},
      "width": 37,
      "height": 458,
      "mark": {"type": "rect", "stroke": "black", "strokeWidth": 1},
      "encoding": {
        "y": {"field": "lo", "type": "quantitative", "scale": {"domain": [0, 300], "nice": false},
              "axis": {"orient": "right", "title": null, "values": [0, 50, 100, 150, 200, 250, 300], "tickSize": 8, "tickColor": "#333",
                       "labelFont": "Liberation Sans Narrow", "labelFontSize": 17, "labelPadding": 6, "labelColor": "#222"}},
        "y2": {"field": "hi"},
        "color": {"field": "v", "type": "quantitative", "legend": null,
                  "scale": {"type": "threshold", "domain": [20,40,60,80,100,120,140,160,180,200,220,240,260,280],
                            "range": ["#00A600","#1DB000","#3EBB00","#63C600","#8BD000","#B6DB00","#E6E600","#E7CE1D","#E9BD3A","#EAB358","#ECB176","#EDB694","#EFC2B3","#F1D6D3","#F2F2F2"]}}
      }
    }
  ],
  "spacing": 28
}
